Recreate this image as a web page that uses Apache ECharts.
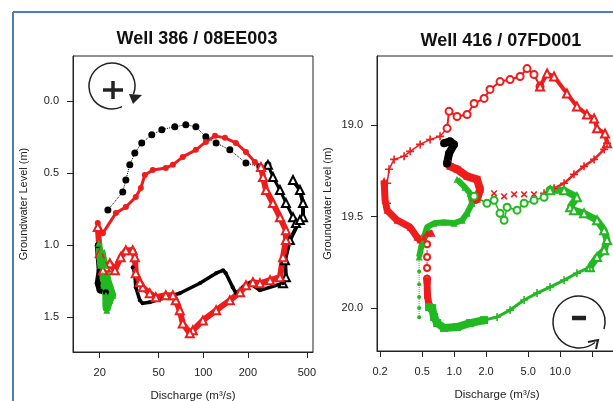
<!DOCTYPE html>
<html>
<head>
<meta charset="UTF-8">
<title>Well hysteresis</title>
<script src="https://cdn.jsdelivr.net/npm/echarts@6/dist/echarts.min.js"></script>
<style>html,body{margin:0;padding:0;background:#fff;}</style>
</head>
<body>
<div id="main" style="width:613px;height:401px;"></div>
<script>
// ---- Well 386 / 08EE003 (discharge m3/s, groundwater level m) ----
const blackArcQ = [22.7, 28.6, 30.0, 31.9, 34.5, 38.4, 44.9, 52.5, 64.2, 76.2, 89.1, 104, 122, 151, 194, 241, 273];
const blackArcH = [0.757, 0.632, 0.549, 0.444, 0.361, 0.292, 0.236, 0.20, 0.18, 0.167, 0.18, 0.25, 0.292, 0.34, 0.431, 0.458, 0.444];
const blackFallQ = [273, 295, 329, 361, 403, 422];
const blackFallH = [0.444, 0.528, 0.618, 0.708, 0.806, 0.847];
const blackEdgeQ = [403, 449, 471, 471, 449, 384, 356, 361, 345];
const blackEdgeH = [0.549, 0.618, 0.708, 0.806, 0.826, 0.965, 1.104, 1.222, 1.264];
const blackLowQ = [345, 241, 206, 185, 166, 158, 142, 136, 122, 94.8, 69.4, 53.3, 43.5, 39.0, 37.3, 35.0, 34.5, 33.4];
const blackLowH = [1.264, 1.313, 1.264, 1.292, 1.333, 1.292, 1.194, 1.174, 1.194, 1.264, 1.333, 1.368, 1.396, 1.403, 1.382, 1.292, 1.194, 1.153];
const blackBaseQ = [19.4, 20, 19.4, 20, 22];
const blackBaseH = [1.0, 1.174, 1.264, 1.313, 1.326];
const redArcQ = [19.4, 21, 25.7, 30, 35, 37.9, 40.3, 45.6, 55.8, 62.3, 72.7, 89.1, 104, 120, 140, 166, 194, 223, 245];
const redArcH = [0.847, 0.917, 0.778, 0.736, 0.667, 0.604, 0.514, 0.479, 0.465, 0.444, 0.389, 0.34, 0.285, 0.243, 0.257, 0.292, 0.354, 0.424, 0.458];
const redLoopQ = [245, 253, 265, 295, 329, 361, 361, 345, 329, 282, 241, 216, 194, 177, 151, 122, 99.3, 85, 81.1, 72.7, 69.4, 65.2, 62.3, 55.8, 47.8, 43.5, 39, 37.3, 35, 34.5, 33.4, 30, 27.7, 25.3, 23.4, 22, 21, 20, 19.4];
const redLoopH = [0.458, 0.528, 0.618, 0.708, 0.806, 0.896, 0.965, 1.083, 1.222, 1.243, 1.264, 1.257, 1.278, 1.326, 1.382, 1.451, 1.521, 1.59, 1.611, 1.542, 1.451, 1.382, 1.347, 1.347, 1.361, 1.333, 1.292, 1.257, 1.194, 1.083, 1.035, 1.035, 1.083, 1.174, 1.125, 1.153, 1.174, 1.056, 0.875];
const greenLQ = [19.7, 20, 20.3, 21, 21.3, 22, 22, 22.3, 23.4, 24.5, 22.7, 21.6, 20.6];
const greenLH = [0.986, 1.069, 1.139, 1.208, 1.278, 1.347, 1.417, 1.451, 1.382, 1.347, 1.243, 1.139, 1.035];

// ---- Well 416 / 07FD001 ----
const redUpXQ = [0.233, 0.233, 0.243, 0.271, 0.337, 0.384, 0.477, 0.593, 0.736, 0.857];
const redUpXH = [19.426, 19.317, 19.240, 19.186, 19.169, 19.142, 19.104, 19.077, 19.060, 19.016];
const redUpOQ = [0.857, 0.895, 1.065, 1.324, 1.541, 1.915, 2.18, 2.71, 3.37, 4.19, 4.87, 5.67, 6.46];
const redUpOH = [19.016, 18.923, 18.951, 18.940, 18.880, 18.852, 18.803, 18.760, 18.749, 18.732, 18.689, 18.721, 18.787];
const redUpTQ = [6.46, 7.53, 8.76, 11.6, 14.4, 17.9, 20.9, 22.3, 26.5, 27.7];
const redUpTH = [18.787, 18.716, 18.732, 18.825, 18.896, 18.940, 18.962, 19.016, 19.044, 19.098];
const redDownQ = [27.7, 26.0, 20.9, 16.8, 13.5, 10.9, 8.76, 7.05];
const redDownH = [19.098, 19.131, 19.186, 19.224, 19.268, 19.317, 19.344, 19.372];
const redSparseQ = [5.67, 4.57, 3.68, 2.96, 2.38];
const redSparseH = [19.377, 19.377, 19.377, 19.388, 19.372];
const redFallQ = [0.218, 0.223, 0.233, 0.289, 0.384, 0.447, 0.477, 0.52, 0.555, 0.619];
const redFallH = [19.301, 19.410, 19.464, 19.519, 19.557, 19.612, 19.628, 19.612, 19.590, 19.590];
const redDashQ = [0.555, 0.555, 0.555, 0.555];
const redDashH = [19.650, 19.721, 19.780, 19.840];
const redStemQ = [0.555, 0.56, 0.58];
const redStemH = [19.85, 19.93, 19.99];
const redMidQ = [0.857, 0.915, 1.065, 1.324, 1.645, 1.755, 1.645, 1.541];
const redMidH = [19.208, 19.224, 19.240, 19.279, 19.295, 19.350, 19.404, 19.410];
const blackRQ = [0.803, 0.915, 0.998, 0.895, 0.857];
const blackRH = [19.098, 19.087, 19.104, 19.153, 19.208];
const greenDotQ = [0.467, 0.467, 0.467, 0.467, 0.467, 0.467];
const greenDotH = [19.72, 19.80, 19.87, 19.94, 20.00, 20.05];
const greenUpQ = [0.467, 0.498, 0.555, 0.646, 0.803, 0.998, 1.187, 1.324, 1.476, 1.413, 1.267, 1.065];
const greenUpH = [19.72, 19.645, 19.557, 19.536, 19.530, 19.536, 19.519, 19.481, 19.426, 19.372, 19.339, 19.295];
const greenRingQ = [1.541, 2.04, 2.38, 2.71, 2.96, 3.16, 3.92, 4.57, 5.67, 7.05, 8.03];
const greenRingH = [19.388, 19.426, 19.410, 19.481, 19.519, 19.448, 19.464, 19.426, 19.410, 19.393, 19.355];
const greenLoopQ = [8.03, 10.9, 14.4, 12.4, 13.5, 16.8, 22.3, 26.0, 27.7, 26.0, 22.3, 19.1];
const greenLoopH = [19.355, 19.355, 19.393, 19.448, 19.464, 19.481, 19.519, 19.574, 19.628, 19.683, 19.721, 19.776];
const greenTailQ = [19.1, 14.4, 10.9, 8.03, 6.06, 4.57, 3.37, 2.54, 1.915];
const greenTailH = [19.776, 19.809, 19.847, 19.885, 19.918, 19.956, 20.011, 20.049, 20.066];
const greenBaseQ = [1.915, 1.413, 1.065, 0.803, 0.69, 0.646, 0.619, 0.58];
const greenBaseH = [20.066, 20.082, 20.104, 20.109, 20.082, 20.049, 20.0, 19.995];

// ticks
const leftXTicks = [20, 50, 100, 200, 500];
const rightXTicks = [0.2, 0.5, 1, 2, 5, 10, 20];
const leftYTicks = [0, 0.5, 1, 1.5];
const rightYTicks = [19, 19.5, 20];

const RED = '#ee1c1c', GREEN = '#22b822', BLACK = '#000';
const FONT = 'Liberation Sans';
const PLUS = 'path://M4,0H6V4H10V6H6V10H4V6H0V4H4Z';

const pts = (q, h) => q.map((v, i) => [v, h[i]]);

function seg(g, q, h, color, sym, size, width, lineType) {
    return {
        type: 'line', xAxisIndex: g, yAxisIndex: g,
        data: pts(q, h),
        symbol: sym, symbolSize: size, showSymbol: sym !== 'none',
        itemStyle: { color: color, borderWidth: 1.5 },
        lineStyle: { color: color, width: width, type: lineType || 'solid', opacity: width > 0 ? 1 : 0 },
        animation: false, silent: true
    };
}

function xAxisOf(g, min, max, ticks, fmt) {
    return {
        type: 'log', gridIndex: g, min: min, max: max,
        axisLine: { show: true, onZero: false, lineStyle: { color: '#222', width: 1 } },
        axisTick: { show: true, length: 6, customValues: ticks, lineStyle: { color: '#222' } },
        axisLabel: { customValues: ticks, fontSize: 11, color: '#222', fontFamily: FONT, margin: 15, formatter: fmt },
        splitLine: { show: false },
        name: 'Discharge (m³/s)', nameLocation: 'middle', nameGap: 38,
        nameTextStyle: { fontSize: 11.5, color: '#222', fontFamily: FONT }
    };
}

function yAxisOf(g, min, max, ticks) {
    return {
        type: 'value', gridIndex: g, min: min, max: max, inverse: true,
        axisLine: { show: true, onZero: false, lineStyle: { color: '#222', width: 1 } },
        axisTick: { show: true, length: 6, customValues: ticks, lineStyle: { color: '#222' } },
        axisLabel: { customValues: ticks, fontSize: 11, color: '#222', fontFamily: FONT, margin: 14, formatter: v => v.toFixed(1) },
        splitLine: { show: false },
        name: 'Groundwater Level (m)', nameLocation: 'middle', nameGap: 44, nameRotate: 90,
        nameTextStyle: { fontSize: 11, color: '#222', fontFamily: FONT }
    };
}

const chart = echarts.init(document.getElementById('main'));
chart.setOption({
    backgroundColor: '#fff',
    animation: false,
    title: [
        { text: 'Well 386 / 08EE003', left: 197, top: 30, textAlign: 'center', padding: 0,
          textStyle: { fontSize: 18, fontWeight: 'bold', color: '#111', fontFamily: FONT } },
        { text: 'Well 416 / 07FD001', left: 501, top: 32, textAlign: 'center', padding: 0,
          textStyle: { fontSize: 18, fontWeight: 'bold', color: '#111', fontFamily: FONT } }
    ],
    grid: [
        { left: 73, top: 56, width: 240, height: 296, show: true, borderColor: '#222', borderWidth: 1, outerBoundsMode: 'none' },
        { left: 377, top: 56, width: 240, height: 295, show: true, borderColor: '#222', borderWidth: 1, outerBoundsMode: 'none' }
    ],
    xAxis: [
        xAxisOf(0, 13.2, 550, leftXTicks, v => String(v)),
        xAxisOf(1, 0.187, 34.4, rightXTicks, v => (v >= 20 ? '' : v.toFixed(1)))
    ],
    yAxis: [
        yAxisOf(0, -0.31, 1.74, leftYTicks),
        yAxisOf(1, 18.62, 20.235, rightYTicks)
    ],
    series: [
        seg(0, blackArcQ, blackArcH, BLACK, 'circle', 7, 1, 'dotted'),
        seg(0, blackFallQ, blackFallH, BLACK, 'emptyTriangle', 8, 3),
        seg(0, blackEdgeQ, blackEdgeH, BLACK, 'emptyTriangle', 8, 4),
        seg(0, blackLowQ, blackLowH, BLACK, 'circle', 4, 3.5),
        seg(0, blackBaseQ, blackBaseH, BLACK, 'circle', 6, 6),
        seg(0, redArcQ, redArcH, RED, 'circle', 6, 3),
        seg(0, redLoopQ, redLoopH, RED, 'emptyTriangle', 8, 6),
        seg(0, greenLQ, greenLH, GREEN, 'triangle', 7, 7),

        seg(1, redUpXQ, redUpXH, RED, PLUS, 8, 1.5),
        seg(1, redUpOQ, redUpOH, RED, 'emptyCircle', 7, 2),
        seg(1, redUpTQ, redUpTH, RED, 'emptyTriangle', 8, 4),
        seg(1, redDownQ, redDownH, RED, PLUS, 8, 2.5),
        Object.assign(seg(1, redSparseQ, redSparseH, RED, PLUS, 8, 0), { symbolRotate: 45 }),
        seg(1, redFallQ, redFallH, RED, 'triangle', 7, 7),
        seg(1, redDashQ, redDashH, RED, 'emptyCircle', 6, 1, 'dashed'),
        seg(1, redStemQ, redStemH, RED, 'rect', 7, 7),
        seg(1, redMidQ, redMidH, RED, 'rect', 7, 8),
        seg(1, blackRQ, blackRH, BLACK, 'circle', 8, 8),
        seg(1, greenDotQ, greenDotH, GREEN, 'circle', 4, 1, 'dotted'),
        seg(1, greenUpQ, greenUpH, GREEN, 'triangle', 7, 6),
        seg(1, greenRingQ, greenRingH, GREEN, 'emptyCircle', 7, 1.5),
        seg(1, greenLoopQ, greenLoopH, GREEN, 'emptyTriangle', 8, 7),
        seg(1, greenTailQ, greenTailH, GREEN, PLUS, 8, 3),
        seg(1, greenBaseQ, greenBaseH, GREEN, 'rect', 8, 8)
    ],
    graphic: [
        // blue frame of the screenshot
        { type: 'line', shape: { x1: 13, y1: 12, x2: 613, y2: 12 }, style: { stroke: '#4a7ebb', lineWidth: 2 } },
        { type: 'line', shape: { x1: 13, y1: 12, x2: 13, y2: 401 }, style: { stroke: '#4a7ebb', lineWidth: 2 } },
        // clockwise (+) marker
        { type: 'arc', shape: { cx: 112, cy: 86, r: 23, startAngle: 64 * Math.PI / 180, endAngle: 381 * Math.PI / 180, clockwise: true },
          style: { stroke: '#222', fill: null, lineWidth: 1.5 } },
        { type: 'polygon', shape: { points: [[129, 94], [142, 95], [133, 104]] }, style: { fill: '#222' } },
        { type: 'line', shape: { x1: 103, y1: 90, x2: 123, y2: 90 }, style: { stroke: '#222', lineWidth: 3.5 } },
        { type: 'line', shape: { x1: 113, y1: 81, x2: 113, y2: 99 }, style: { stroke: '#222', lineWidth: 3.5 } },
        // counter-clockwise (-) marker
        { type: 'arc', shape: { cx: 579, cy: 322, r: 26, startAngle: 52 * Math.PI / 180, endAngle: 376 * Math.PI / 180, clockwise: true },
          style: { stroke: '#222', fill: null, lineWidth: 1.5 } },
        { type: 'polyline', shape: { points: [[588, 342], [598, 340], [596, 349]] }, style: { stroke: '#222', lineWidth: 2, fill: null } },
        { type: 'line', shape: { x1: 572, y1: 318, x2: 586, y2: 318 }, style: { stroke: '#222', lineWidth: 4.5 } }
    ]
});
</script>
</body>
</html>
